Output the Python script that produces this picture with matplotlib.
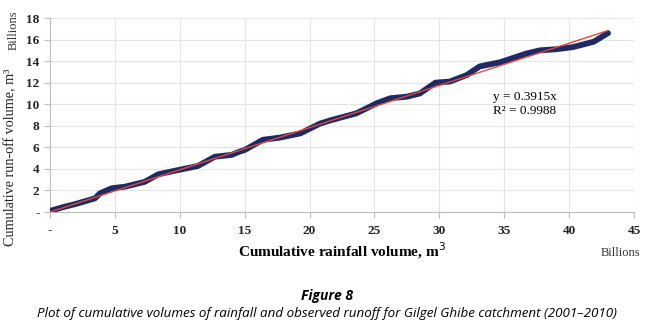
import matplotlib
matplotlib.use("Agg")
import matplotlib.pyplot as plt
import numpy as np
from matplotlib.ticker import FuncFormatter

# Cumulative rainfall (billions m3) and cumulative runoff (billions m3)
rain = [0.0, 1.0, 2.0, 3.47, 3.85, 4.75, 5.78, 7.3, 8.35, 9.9, 11.4, 12.7, 14.0,
        14.6, 15.0, 16.4, 17.7, 19.3, 20.8, 21.6, 23.6, 25.2, 26.2, 27.5, 28.5,
        29.7, 30.8, 32.1, 33.1, 34.7, 36.7, 37.75, 39.0, 40.3, 41.9, 43.0]
runoff = [0.1, 0.45, 0.75, 1.27, 1.73, 2.2, 2.35, 2.8, 3.5, 3.9, 4.27, 5.13, 5.3,
          5.6, 5.75, 6.7, 6.9, 7.3, 8.2, 8.5, 9.15, 10.1, 10.55, 10.7, 11.0,
          12.0, 12.1, 12.7, 13.5, 13.9, 14.7, 15.0, 15.1, 15.3, 15.8, 16.6]
slope = 0.3915
r2 = 0.9988
x_ticks = [0, 5, 10, 15, 20, 25, 30, 35, 40, 45]
y_ticks = [0, 2, 4, 6, 8, 10, 12, 14, 16, 18]

serif = ["Liberation Serif", "DejaVu Serif"]

fig = plt.figure(figsize=(6.54, 3.30), dpi=100)
ax = fig.add_axes([50/654, 1-212/330, (634-50)/654, (212-18)/330])

ax.plot(rain, runoff, color="#1f2a62", lw=4.2, solid_capstyle="round",
        solid_joinstyle="round", zorder=3)
xt = np.array([0, rain[-1]])
ax.plot(xt, slope*xt, color="#e0483f", lw=1.0, zorder=4)

ax.set_xlim(0, 45)
ax.set_ylim(0, 18)
ax.set_xticks(x_ticks)
ax.set_yticks(y_ticks)
fmt = FuncFormatter(lambda v, p: "-" if v == 0 else f"{v:g}")
ax.xaxis.set_major_formatter(fmt)
ax.yaxis.set_major_formatter(fmt)
ax.grid(True, color="#e4e4e4", lw=0.8)
ax.set_axisbelow(True)
for s in ["top", "right"]:
    ax.spines[s].set_visible(False)
for s in ["left", "bottom"]:
    ax.spines[s].set_color("#bdbdbd")
ax.tick_params(axis="both", colors="#bdbdbd", length=4, width=0.8,
               labelcolor="#222222")
for lab in ax.get_xticklabels() + ax.get_yticklabels():
    lab.set_fontfamily(serif)
    lab.set_fontweight("bold")
    lab.set_fontsize(9.5)
ax.tick_params(axis="x", pad=5)

ax.set_xlabel("Cumulative rainfall volume, m$^3$", fontfamily=serif,
              fontweight="bold", fontsize=11, labelpad=3)
fig.text(11/654, 1-157/330, "Cumulative run-off volume, m³", rotation=90,
         ha="center", va="center", fontfamily=serif, fontsize=10.2,
         color="#222222")
fig.text(14/654, 1-30/330, "Billions", rotation=90, ha="center", va="center",
         fontfamily=serif, fontsize=9, color="#333333")
fig.text(640/654, 1-253/330, "Billions", ha="right", va="center",
         fontfamily=serif, fontsize=9, color="#333333")

ax.text(0.758, 0.625, f"y = {slope}x\nR² = {r2}", transform=ax.transAxes,
        fontfamily=serif, fontsize=9.5, ha="left", va="top", linespacing=1.3)

cap_font = ["Open Sans", "DejaVu Sans"]
fig.text(0.5, 1-296/330, "Figure 8", ha="center", va="center",
         fontfamily=cap_font, fontweight="bold", style="italic", fontsize=10)
fig.text(0.5, 1-313/330,
         "Plot of cumulative volumes of rainfall and observed runoff for Gilgel Ghibe catchment (2001\u20132010)",
         ha="center", va="center", fontfamily=cap_font, style="italic", fontsize=9.6)

fig.savefig("out.png", dpi=100)
